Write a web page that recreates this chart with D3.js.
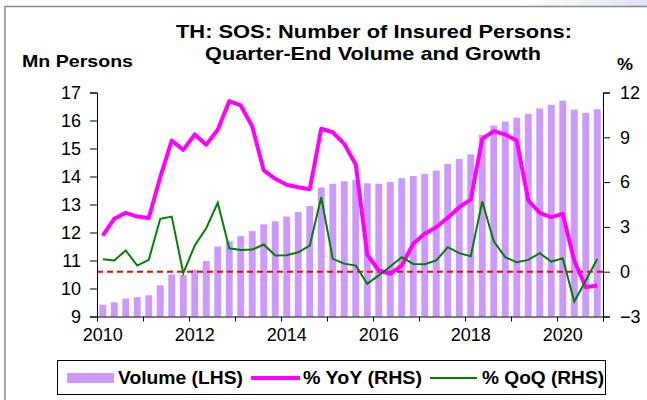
<!DOCTYPE html>
<html>
<head>
<meta charset="utf-8">
<script src="https://cdn.jsdelivr.net/npm/d3@7"></script>
<style>
  body { margin: 0; background: #fff; }
  svg { display: block; font-family: "Liberation Sans", Arial, sans-serif; }
</style>
</head>
<body>
<script>
// quarter-end data, 2010Q1 .. 2020Q4
var years = [2010, 2011, 2012, 2013, 2014, 2015, 2016, 2017, 2018, 2019, 2020];
var yearLabels = ["2010", "2012", "2014", "2016", "2018", "2020"];

// volume, mn persons (LHS)
var volume = [9.42, 9.51, 9.64, 9.69, 9.76, 10.11, 10.50, 10.48, 10.67, 10.98, 11.50, 11.68,
              11.87, 12.05, 12.29, 12.40, 12.57, 12.73, 12.95, 13.61, 13.74, 13.83, 13.88, 13.76,
              13.74, 13.80, 13.94, 14.02, 14.09, 14.21, 14.45, 14.63, 14.79, 15.49, 15.82, 15.96,
              16.10, 16.23, 16.43, 16.56, 16.71, 16.39, 16.27, 16.40];

// % YoY (RHS)
var yoy = [2.42, 3.54, 3.94, 3.69, 3.60, 6.33, 8.78, 8.16, 9.19, 8.50, 9.50, 11.42,
           11.13, 9.72, 6.78, 6.22, 5.82, 5.66, 5.52, 9.57, 9.34, 8.56, 7.18, 1.15,
           0.08, -0.14, 0.41, 1.87, 2.54, 2.98, 3.61, 4.32, 4.83, 8.90, 9.41, 9.19,
           8.78, 4.77, 3.94, 3.65, 3.87, 0.75, -1.04, -0.93];

// % QoQ (RHS)
var qoq = [0.83, 0.75, 1.42, 0.41, 0.79, 3.54, 3.69, -0.10, 1.75, 2.91, 4.61, 1.57,
           1.46, 1.48, 1.82, 1.08, 1.10, 1.30, 1.75, 4.99, 0.86, 0.54, 0.41, -0.81,
           -0.25, 0.35, 0.97, 0.52, 0.50, 0.75, 1.64, 1.24, 1.04, 4.70, 2.04, 0.97,
           0.63, 0.79, 1.24, 0.68, 0.90, -2.00, -0.60, 0.86];

var leftTicks = [9, 10, 11, 12, 13, 14, 15, 16, 17];
var rightTicks = [-3, 0, 3, 6, 9, 12];

var quarters = [];
years.forEach(function (y) {
    [1, 2, 3, 4].forEach(function (q) { quarters.push(y + "Q" + q); });
});

var W = 647, H = 400;
var L = 97, R = 603, T = 92.5, B = 316.5;

var svg = d3.select("body").append("svg")
    .attr("width", W)
    .attr("height", H);

// frame + little shaded corner at top right
var grad = svg.append("defs").append("linearGradient")
    .attr("id", "corner").attr("x1", 0).attr("x2", 1).attr("y1", 0).attr("y2", 0);
grad.append("stop").attr("offset", "0").attr("stop-color", "#ffffff");
grad.append("stop").attr("offset", "1").attr("stop-color", "#dfe3f3");
svg.append("path")
    .attr("d", "M520,6.5 L535,0 L647,0 L647,6.5 Z")
    .attr("fill", "url(#corner)");
svg.append("path")
    .attr("d", "M5,400 L5,6.5 L647,6.5")
    .attr("fill", "none")
    .attr("stroke", "#888")
    .attr("stroke-width", 1.5);

var x = d3.scaleBand()
    .domain(quarters)
    .range([L, R])
    .paddingInner(0.4)
    .paddingOuter(0.2);

var xYear = d3.scaleLinear()
    .domain([2010, 2021])
    .range([L, R]);

var yL = d3.scaleLinear().domain([9, 17]).range([B, T]);
var yR = d3.scaleLinear().domain([-3, 12]).range([B, T]);

function cx(q) { return x(q) + x.bandwidth() / 2; }

// bars
svg.append("g").selectAll("rect")
    .data(volume)
    .join("rect")
    .attr("x", function (d, i) { return x(quarters[i]); })
    .attr("width", x.bandwidth())
    .attr("y", function (d) { return yL(d); })
    .attr("height", function (d) { return yL(9) - yL(d); })
    .attr("fill", "#cc99ff");

// zero line on the RHS scale
svg.append("line")
    .attr("x1", L).attr("x2", R)
    .attr("y1", yR(0)).attr("y2", yR(0))
    .attr("stroke", "#ff0000")
    .attr("stroke-width", 2)
    .attr("stroke-dasharray", "6,4");

var line = d3.line()
    .x(function (d, i) { return cx(quarters[i]); })
    .y(function (d) { return yR(d); });

svg.append("path")
    .datum(yoy)
    .attr("d", line)
    .attr("fill", "none")
    .attr("stroke", "#ff00ff")
    .attr("stroke-width", 4)
    .attr("stroke-linejoin", "round");

svg.append("path")
    .datum(qoq)
    .attr("d", line)
    .attr("fill", "none")
    .attr("stroke", "#008000")
    .attr("stroke-width", 2);

// axes
var gl = svg.append("g")
    .attr("transform", "translate(" + L + ",0)")
    .call(d3.axisLeft(yL).tickValues(leftTicks).tickSize(7).tickPadding(9).tickFormat(d3.format("d")));

var gr = svg.append("g")
    .attr("transform", "translate(" + R + ",0)")
    .call(d3.axisRight(yR).tickValues(rightTicks).tickSize(7).tickPadding(10).tickFormat(d3.format("d")));

var gx = svg.append("g")
    .attr("transform", "translate(0," + B + ")")
    .call(d3.axisBottom(xYear).tickValues(d3.range(2010, 2022)).tickSize(5).tickFormat(""));

var gxl = svg.append("g")
    .attr("transform", "translate(0," + B + ")")
    .call(d3.axisBottom(x)
        .tickValues(yearLabels.map(function (y) { return y + "Q1"; }))
        .tickSize(0).tickPadding(12)
        .tickFormat(function (d) { return d.slice(0, 4); }));
gxl.select(".domain").remove();

[gl, gr, gx, gxl].forEach(function (g) {
    g.selectAll("text").attr("font-size", 18).attr("fill", "#000")
        .attr("font-family", "Liberation Sans, Arial, sans-serif");
    g.selectAll("line, path").attr("stroke", "#000");
});

// titles
var title = svg.append("g")
    .attr("font-weight", "bold")
    .attr("font-size", 19)
    .attr("text-anchor", "middle")
    .attr("lengthAdjust", "spacingAndGlyphs");
title.append("text").attr("x", 374).attr("y", 38)
    .attr("textLength", 396).attr("lengthAdjust", "spacingAndGlyphs")
    .text("TH: SOS: Number of Insured Persons:");
title.append("text").attr("x", 373).attr("y", 60)
    .attr("textLength", 336).attr("lengthAdjust", "spacingAndGlyphs")
    .text("Quarter-End Volume and Growth");

svg.append("text")
    .attr("x", 22).attr("y", 67)
    .attr("font-weight", "bold").attr("font-size", 17)
    .attr("textLength", 111).attr("lengthAdjust", "spacingAndGlyphs")
    .text("Mn Persons");

svg.append("text")
    .attr("x", 617).attr("y", 70)
    .attr("font-weight", "bold").attr("font-size", 17)
    .attr("textLength", 16).attr("lengthAdjust", "spacingAndGlyphs")
    .text("%");

// legend
var lg = svg.append("g");
lg.append("rect")
    .attr("x", 57.5).attr("y", 360.5)
    .attr("width", 548).attr("height", 34)
    .attr("fill", "#fff").attr("stroke", "#000").attr("stroke-width", 1);

lg.append("rect")
    .attr("x", 67).attr("y", 373).attr("width", 47).attr("height", 10)
    .attr("fill", "#cc99ff");
lg.append("line")
    .attr("x1", 251).attr("x2", 300).attr("y1", 378).attr("y2", 378)
    .attr("stroke", "#ff00ff").attr("stroke-width", 4);
lg.append("line")
    .attr("x1", 430).attr("x2", 477).attr("y1", 378).attr("y2", 378)
    .attr("stroke", "#008000").attr("stroke-width", 2);

var legendText = [
    { x: 118, w: 125, t: "Volume (LHS)" },
    { x: 303, w: 119, t: "% YoY (RHS)" },
    { x: 482, w: 122, t: "% QoQ (RHS)" }
];
lg.selectAll("text.leg")
    .data(legendText)
    .join("text")
    .attr("class", "leg")
    .attr("x", function (d) { return d.x; })
    .attr("y", 384)
    .attr("font-weight", "bold")
    .attr("font-size", 18)
    .attr("textLength", function (d) { return d.w; })
    .attr("lengthAdjust", "spacingAndGlyphs")
    .text(function (d) { return d.t; });
</script>
</body>
</html>
